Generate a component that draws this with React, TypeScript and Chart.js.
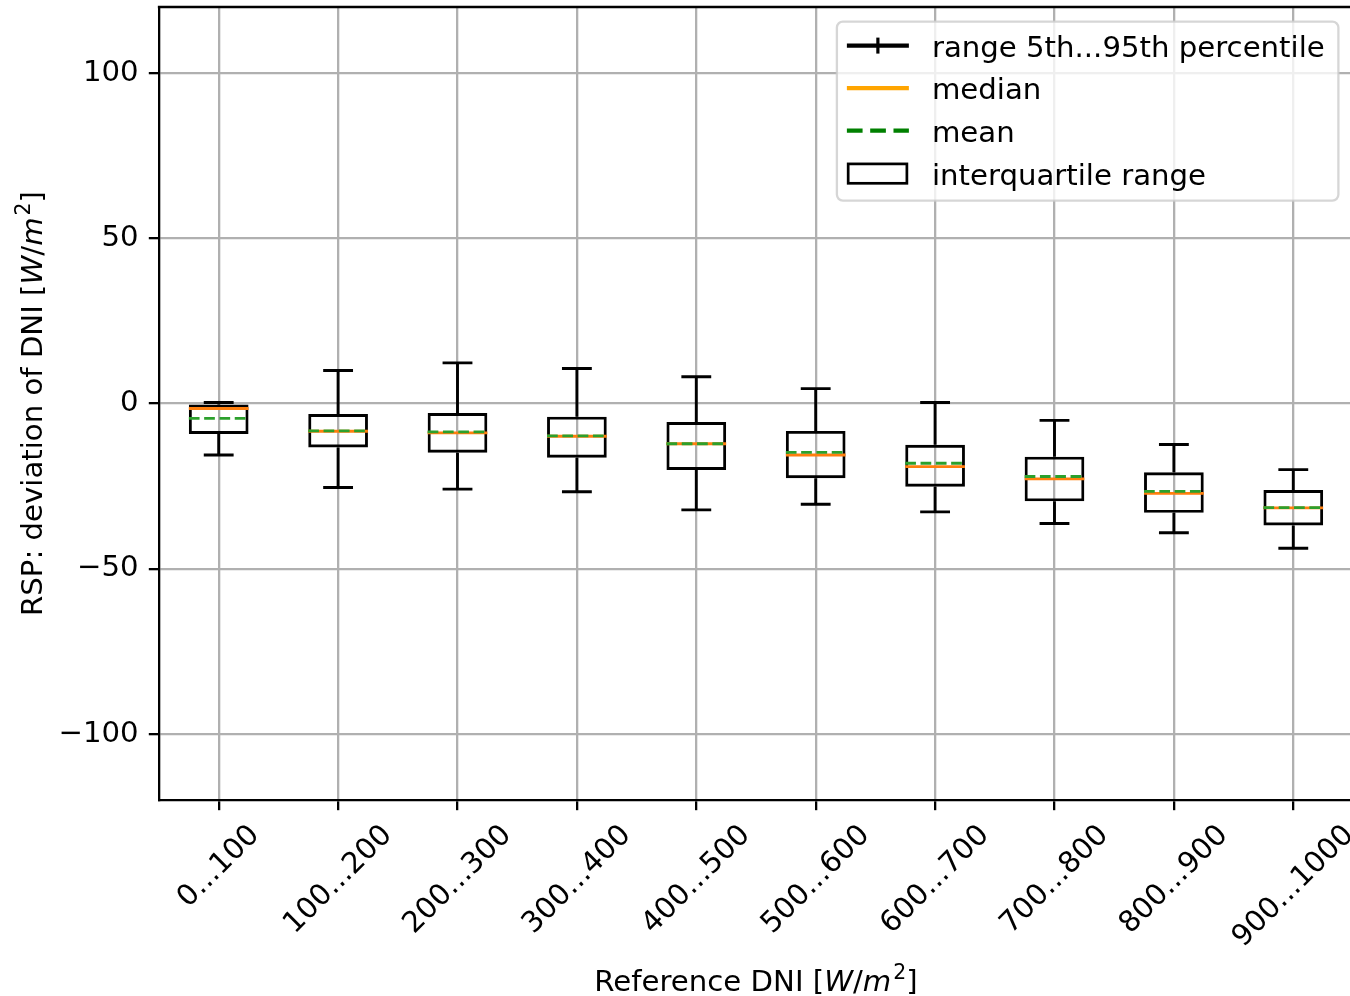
import { useEffect, useRef } from "react";
import { Chart, registerables } from "chart.js";

Chart.register(...registerables);

// ---------------- data ----------------
const categories = ["0...100", "100...200", "200...300", "300...400", "400...500", "500...600", "600...700", "700...800", "800...900", "900...1000"];
const p95 = [0.3, 10.0, 12.3, 10.6, 8.1, 4.5, 0.3, -5.1, -12.4, -20.0];
const q3 = [-0.3, -3.2, -2.9, -4.0, -5.6, -8.3, -12.5, -16.1, -20.8, -26.2];
const medians = [-1.5, -8.4, -8.9, -9.9, -12.2, -15.6, -19.1, -22.8, -27.2, -31.6];
const means = [-4.5, -8.3, -8.6, -9.8, -12.2, -14.8, -18.1, -22.1, -26.6, -31.5];
const q1 = [-9.2, -13.3, -14.9, -16.4, -20.1, -22.6, -25.2, -29.6, -33.1, -36.9];
const p5 = [-15.6, -25.4, -25.9, -26.7, -32.2, -30.5, -32.8, -36.3, -39.1, -43.8];
const yTickValues = [-100, -50, 0, 50, 100];
const legendLabels = ["range 5th...95th percentile", "median", "mean", "interquartile range"];

// ---------------- style constants ----------------
const FONT = '"DejaVu Sans"';
const FS = 29.2;
const LW = 2.9;
const GRID_LW = 2.3;
const TICK_LEN = 10.2;
const TICK_PAD = 10.2;
const BOX_HALF = 0.25;
const CAP_HALF = 0.125;
const X_MIN = -0.5;
const X_MAX = 9.475;
const FULL_X_MAX = 9.5;

const idx = categories.map((_, i) => i);
const segs = (f: (i: number) => { x: number; y: number | null }[]) =>
  idx.flatMap((i) => [...f(i), { x: i, y: null }]);

type Part = { t: string; it?: boolean; sup?: boolean };
const axisUnit: Part[] = [
  { t: "[" },
  { t: "W", it: true },
  { t: "/" },
  { t: "m", it: true },
  { t: "2", sup: true },
  { t: "]" },
];

function partFont(p: Part) {
  const size = p.sup ? FS * 0.7 : FS;
  return `${p.it ? "italic " : ""}${size}px ${FONT}`;
}

function drawRich(ctx: CanvasRenderingContext2D, parts: Part[], x: number, y: number) {
  let total = 0;
  const widths = parts.map((p) => {
    ctx.font = partFont(p);
    const w = ctx.measureText(p.t).width + (p.sup ? 2 : 0);
    total += w;
    return w;
  });
  let cx = x - total / 2;
  ctx.textAlign = "left";
  ctx.textBaseline = "alphabetic";
  parts.forEach((p, k) => {
    ctx.font = partFont(p);
    ctx.fillText(p.t, cx + (p.sup ? 2 : 0), p.sup ? y - FS * 0.42 : y);
    cx += widths[k];
  });
}

const overlayPlugin = {
  id: "overlay",
  afterDraw(chart: any) {
    const ctx: CanvasRenderingContext2D = chart.ctx;
    const xs = chart.scales.x;
    const ys = chart.scales.y;
    const area = chart.chartArea;
    ctx.save();
    ctx.fillStyle = "#000";
    ctx.strokeStyle = "#000";

    // top spine
    ctx.lineWidth = GRID_LW;
    ctx.beginPath();
    ctx.moveTo(area.left - GRID_LW / 2, area.top);
    ctx.lineTo(area.right, area.top);
    ctx.stroke();

    // x tick labels (rotated 45°, centred on the tick like matplotlib)
    ctx.font = `${FS}px ${FONT}`;
    const H = FS * 0.968;
    const top0 = area.bottom + TICK_LEN + TICK_PAD;
    categories.forEach((lab, i) => {
      const px = xs.getPixelForValue(i);
      const W = ctx.measureText(lab).width;
      const cy = top0 + ((W + H) * Math.SQRT1_2) / 2;
      ctx.save();
      ctx.translate(px, cy);
      ctx.rotate(-Math.PI / 4);
      ctx.textAlign = "center";
      ctx.textBaseline = "alphabetic";
      ctx.fillText(lab, 0, FS * 0.276);
      ctx.restore();
    });

    // x axis title
    const xCenter = (xs.getPixelForValue(X_MIN) + xs.getPixelForValue(FULL_X_MAX)) / 2;
    drawRich(ctx, [{ t: "Reference DNI " }, ...axisUnit], xCenter, 991);

    // y axis title
    ctx.save();
    ctx.translate(42, (area.top + area.bottom) / 2);
    ctx.rotate(-Math.PI / 2);
    drawRich(ctx, [{ t: "RSP: deviation of DNI " }, ...axisUnit], 0, 0);
    ctx.restore();

    // legend
    const lx0 = xs.getPixelForValue(FULL_X_MAX) - 14.6 - 501.5;
    const ly0 = area.top + 14.6;
    ctx.beginPath();
    (ctx as any).roundRect(lx0, ly0, 501.5, 179, 6);
    ctx.fillStyle = "rgba(255,255,255,0.8)";
    ctx.fill();
    ctx.lineWidth = 2.3;
    ctx.strokeStyle = "rgba(204,204,204,0.8)";
    ctx.stroke();

    const hx0 = lx0 + 10;
    const hx1 = lx0 + 72;
    const rowY = [24, 66.5, 109, 152].map((d) => ly0 + d);
    const HLW = 4.2;

    // row 1: range line with tick
    ctx.strokeStyle = "#000";
    ctx.lineWidth = HLW;
    ctx.beginPath();
    ctx.moveTo(hx0, rowY[0]);
    ctx.lineTo(hx1, rowY[0]);
    ctx.stroke();
    ctx.lineWidth = 3.2;
    ctx.beginPath();
    ctx.moveTo((hx0 + hx1) / 2, rowY[0] - 8);
    ctx.lineTo((hx0 + hx1) / 2, rowY[0] + 8);
    ctx.stroke();

    // row 2: median
    ctx.strokeStyle = "#ffa500";
    ctx.lineWidth = HLW;
    ctx.beginPath();
    ctx.moveTo(hx0, rowY[1]);
    ctx.lineTo(hx1, rowY[1]);
    ctx.stroke();

    // row 3: mean
    ctx.strokeStyle = "#008000";
    ctx.setLineDash([15.7, 7.6]);
    ctx.beginPath();
    ctx.moveTo(hx0, rowY[2]);
    ctx.lineTo(hx1, rowY[2]);
    ctx.stroke();
    ctx.setLineDash([]);

    // row 4: IQR rectangle
    ctx.strokeStyle = "#000";
    ctx.lineWidth = 2.7;
    ctx.strokeRect(hx0 + 1.3, rowY[3] - 9.7, 58.7, 19.4);

    ctx.fillStyle = "#000";
    ctx.font = `${FS}px ${FONT}`;
    ctx.textAlign = "left";
    ctx.textBaseline = "alphabetic";
    legendLabels.forEach((lab, k) => ctx.fillText(lab, lx0 + 95, rowY[k] + 11));

    ctx.restore();
  },
};

const gridOpts = {
  color: "#b0b0b0",
  lineWidth: GRID_LW,
  tickColor: "#000",
  tickWidth: GRID_LW,
  tickLength: TICK_LEN,
  drawTicks: true,
  offset: false,
};
const borderOpts = { display: true, color: "#000", width: GRID_LW };

export default function App() {
  const ref = useRef<HTMLCanvasElement>(null);

  useEffect(() => {
    document.body.style.margin = "0";
    document.body.style.overflow = "hidden";
    const lineCommon = {
      type: "line" as const,
      pointRadius: 0,
      pointHoverRadius: 0,
      spanGaps: false,
      fill: false,
      tension: 0,
    };
    const chart = new Chart(ref.current as HTMLCanvasElement, {
      type: "bar",
      data: {
        datasets: [
          {
            ...lineCommon,
            label: "mean",
            data: segs((i) => [
              { x: i - BOX_HALF, y: means[i] },
              { x: i + BOX_HALF, y: means[i] },
            ]),
            borderColor: "#2ca02c",
            borderWidth: LW,
            borderDash: [10.7, 4.6],
            order: 0,
          } as any,
          {
            ...lineCommon,
            label: "median",
            data: segs((i) => [
              { x: i - BOX_HALF, y: medians[i] },
              { x: i + BOX_HALF, y: medians[i] },
            ]),
            borderColor: "#ff7f0e",
            borderWidth: LW,
            order: 1,
          } as any,
          {
            type: "bar",
            label: "interquartile range",
            data: idx.map((i) => ({ x: i, y: [q1[i], q3[i]] })),
            backgroundColor: "rgba(0,0,0,0)",
            borderColor: "#000",
            borderWidth: LW,
            borderSkipped: false,
            barPercentage: BOX_HALF * 2,
            categoryPercentage: 1,
            grouped: false,
            order: 2,
          } as any,
          {
            ...lineCommon,
            label: "caps",
            data: segs((i) => [
              { x: i - CAP_HALF, y: p5[i] },
              { x: i + CAP_HALF, y: p5[i] },
              { x: i, y: null },
              { x: i - CAP_HALF, y: p95[i] },
              { x: i + CAP_HALF, y: p95[i] },
            ]),
            borderColor: "#000",
            borderWidth: LW,
            order: 3,
          } as any,
          {
            ...lineCommon,
            label: "range 5th...95th percentile",
            data: segs((i) => [
              { x: i, y: p5[i] },
              { x: i, y: q1[i] },
              { x: i, y: null },
              { x: i, y: q3[i] },
              { x: i, y: p95[i] },
            ]),
            borderColor: "#000",
            borderWidth: LW,
            order: 4,
          } as any,
        ],
      },
      options: {
        responsive: false,
        animation: false,
        devicePixelRatio: 1,
        layout: { padding: { top: 7, left: 0, right: 0, bottom: 0 } },
        plugins: {
          legend: { display: false },
          tooltip: { enabled: false },
          title: { display: false },
        },
        scales: {
          x: {
            type: "linear",
            min: X_MIN,
            max: X_MAX,
            offset: false,
            grid: gridOpts,
            border: borderOpts,
            ticks: { display: false, includeBounds: false, stepSize: 1 },
            afterBuildTicks: (s: any) => {
              s.ticks = idx.map((i) => ({ value: i }));
            },
            afterFit: (s: any) => {
              s.height = 196;
              s.paddingLeft = 0;
              s.paddingRight = 0;
              s.paddingTop = 0;
              s.paddingBottom = 0;
            },
          },
          y: {
            type: "linear",
            min: -120,
            max: 120,
            grid: gridOpts,
            border: borderOpts,
            ticks: {
              color: "#000",
              font: { family: "DejaVu Sans", size: FS },
              padding: TICK_PAD,
              callback: (v: any) => String(v).replace("-", "\u2212"),
            },
            afterBuildTicks: (s: any) => {
              s.ticks = yTickValues.map((v) => ({ value: v }));
            },
            afterFit: (s: any) => {
              s.width = 159;
              s.paddingLeft = 0;
              s.paddingRight = 0;
              s.paddingTop = 0;
              s.paddingBottom = 0;
            },
          },
        },
      } as any,
      plugins: [overlayPlugin],
    });
    return () => chart.destroy();
  }, []);

  return (
    <div style={{ position: "absolute", left: 0, top: 0, width: 1350, height: 996 }}>
      <canvas ref={ref} width={1350} height={996} style={{ display: "block", width: 1350, height: 996 }} />
    </div>
  );
}
